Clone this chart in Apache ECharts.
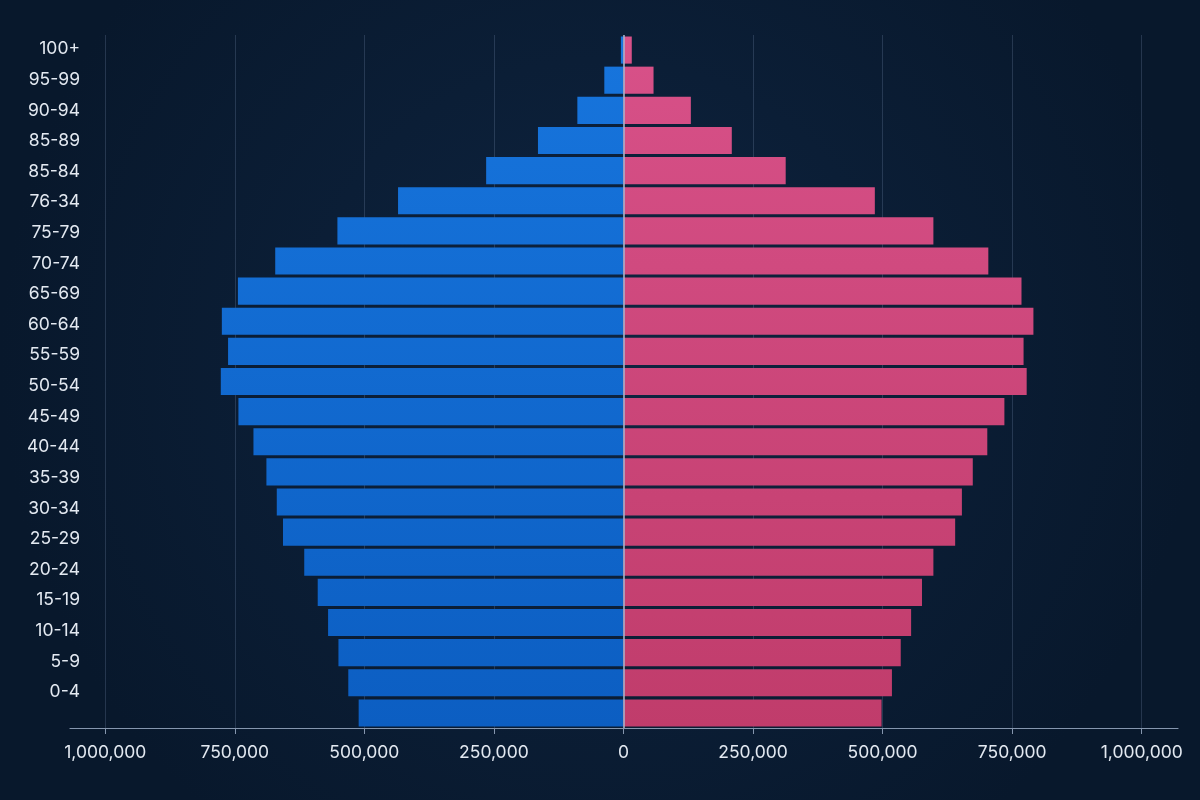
<!DOCTYPE html>
<html>
<head>
<meta charset="utf-8">
<script src="https://cdn.jsdelivr.net/npm/echarts@6/dist/echarts.min.js"></script>
<style>html,body{margin:0;padding:0;background:#0b1e34;}#c{width:1200px;height:800px;}</style>
</head>
<body>
<div id="c"></div>
<script>
// Bars, top to bottom
const barCategories = ['100+','95-99','90-94','85-89','85-84','76-34','75-79','70-74','65-69','60-64','55-59','50-54','45-49','40-44','35-39','30-34','25-29','20-24','15-19','10-14','5-9','0-4','(base)'];
// Axis labels as printed (22 labels for 23 bars)
const ageLabels = ['100+','95-99','90-94','85-89','85-84','76-34','75-79','70-74','65-69','60-64','55-59','50-54','45-49','40-44','35-39','30-34','25-29','20-24','15-19','10-14','5-9','0-4'];
const male = [5000,37000,89000,165000,265000,435000,552000,672000,744000,775000,763000,777000,743000,714000,689000,669000,657000,616000,590000,570000,550000,531000,511000];
const female = [16000,58000,130000,209000,313000,485000,598000,704000,768000,791000,772000,778000,735000,702000,674000,653000,640000,598000,576000,555000,535000,518000,498000];
const tickValues = [-1000000,-750000,-500000,-250000,0,250000,500000,750000,1000000];

const chart = echarts.init(document.getElementById('c'));
const fmt = v => Math.abs(v).toLocaleString('en-US');
const font = 'Inter, "Noto Sans", sans-serif';
chart.setOption({
  backgroundColor: {
    type: 'radial', x: 0.5, y: 0.45, r: 0.75,
    colorStops: [{offset: 0, color: '#0e2440'}, {offset: 1, color: '#08182c'}]
  },
  animation: false,
  grid: [
    {left: 70, right: 22, top: 35, bottom: 72},
    {left: 70, right: 22, top: 33.7, bottom: 92.7}
  ],
  xAxis: [
    {
      type: 'value', gridIndex: 0, min: -1068000, max: 1070000,
      axisLine: {show: true, lineStyle: {color: '#8596ae', width: 1.2}},
      axisTick: {show: true, customValues: tickValues, length: 6, lineStyle: {color: '#8596ae'}},
      axisLabel: {customValues: tickValues, formatter: fmt, color: '#e3e9f1', fontSize: 17.5, fontFamily: font, margin: 16},
      splitLine: {show: true, lineStyle: {color: 'rgba(140,165,200,0.22)', width: 1}}
    },
    {type: 'value', gridIndex: 1, show: false, min: 0, max: 1}
  ],
  yAxis: [
    {
      type: 'category', gridIndex: 0, inverse: true, data: barCategories,
      axisLine: {show: false}, axisTick: {show: false}, axisLabel: {show: false}, splitLine: {show: false}
    },
    {
      type: 'category', gridIndex: 1, inverse: true, data: ageLabels,
      axisLine: {show: false}, axisTick: {show: false}, splitLine: {show: false},
      axisLabel: {color: '#e3e9f1', fontSize: 17.5, fontFamily: font, margin: -10}
    }
  ],
  series: [
    {
      name: 'Male', type: 'bar', stack: 'pop', barCategoryGap: '10%',
      xAxisIndex: 0, yAxisIndex: 0,
      data: male.map(v => -v),
      itemStyle: {
        color: {type: 'linear', global: true, x: 0, y: 35, x2: 0, y2: 728,
          colorStops: [{offset: 0, color: '#1775dd'}, {offset: 1, color: '#0c5ec2'}]}
      },
      markLine: {
        silent: true, symbol: 'none', label: {show: false},
        lineStyle: {color: '#a9b9cf', width: 1.5, type: 'solid'},
        data: [{xAxis: 0}]
      }
    },
    {
      name: 'Female', type: 'bar', stack: 'pop', barCategoryGap: '10%',
      xAxisIndex: 0, yAxisIndex: 0,
      data: female,
      itemStyle: {
        color: {type: 'linear', global: true, x: 0, y: 35, x2: 0, y2: 728,
          colorStops: [{offset: 0, color: '#d85189'}, {offset: 1, color: '#c03c6b'}]}
      }
    }
  ]
});
</script>
</body>
</html>
